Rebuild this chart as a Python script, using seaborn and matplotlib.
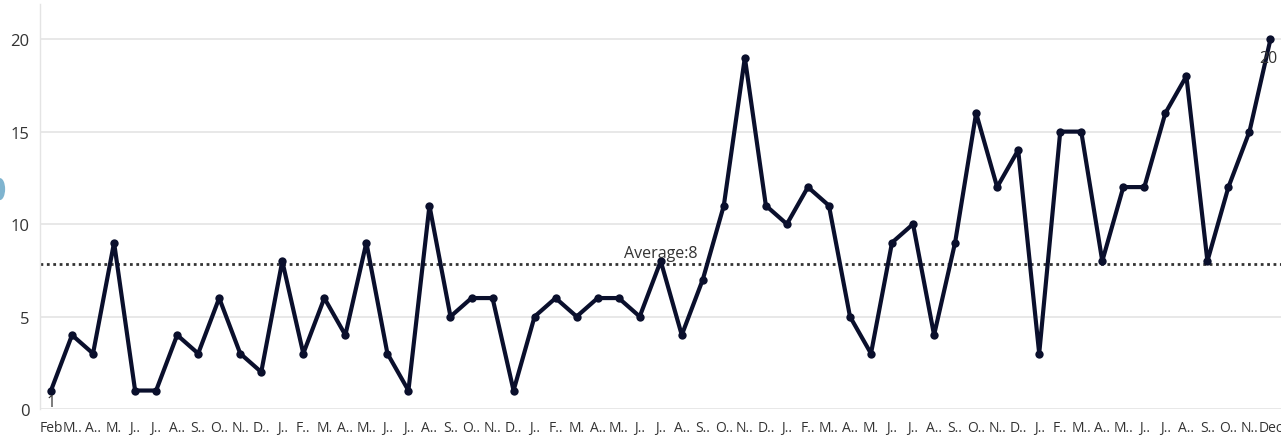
import matplotlib
matplotlib.use("Agg")
import matplotlib.pyplot as plt
import seaborn as sns
import pandas as pd
from matplotlib.patches import Ellipse

sns.set_theme(style="white")
plt.rcParams["font.family"] = ["Open Sans", "DejaVu Sans"]

# monthly counts, Feb .. Dec over five years
month_labels = [
    "Feb", "M..", "A..", "M.", "J..", "J..", "A..", "S..", "O..", "N..", "D..",
    "J..", "F..", "M.", "A..", "M..", "J..", "J..", "A..", "S..", "O..", "N..", "D..",
    "J..", "F..", "M.", "A..", "M..", "J..", "J..", "A..", "S..", "O..", "N..", "D..",
    "J..", "F..", "M..", "A..", "M.", "J..", "J..", "A..", "S..", "O..", "N..", "D..",
    "J..", "F..", "M..", "A..", "M..", "J..", "J..", "A..", "S..", "O..", "N..", "Dec",
]
counts = [
    1, 4, 3, 9, 1, 1, 4, 3, 6, 3, 2,
    8, 3, 6, 4, 9, 3, 1, 11, 5, 6, 6, 1,
    5, 6, 5, 6, 6, 5, 8, 4, 7, 11, 19, 11,
    10, 12, 11, 5, 3, 9, 10, 4, 9, 16, 12, 14,
    3, 15, 15, 8, 12, 12, 16, 18, 8, 12, 15, 20,
]

df = pd.DataFrame({"idx": range(len(counts)), "count": counts})
avg = df["count"].mean()

fig = plt.figure(figsize=(12.81, 4.39), dpi=100)
ax = fig.add_axes([0.0316, 0.066, 0.9684, 0.9226])

# grid
for v in [0, 5, 10, 15, 20]:
    ax.axhline(v, color="#e4e4e4", lw=1.2, zorder=0)

# average line
ax.axhline(avg, color="#333333", lw=2, ls=(0, (1, 1.3)), zorder=1)

sns.lineplot(data=df, x="idx", y="count", ax=ax, color="#0a0f2c",
             lw=3, marker="o", markersize=6, markeredgewidth=0, zorder=3)

ax.text(df["idx"][29], avg + 0.2, "Average:%d" % round(avg), ha="center", va="bottom",
        fontsize=11.5, color="#333333")
ax.text(df["idx"][0], counts[0] - 0.2, "1", ha="center", va="top", fontsize=11.5, color="#333333")
ax.text(df["idx"].iloc[-1] - 0.1, counts[-1] - 0.6, "20", ha="center", va="top", fontsize=11.5,
        color="#333333", clip_on=False)

ax.set_xlim(-0.5, len(counts) - 0.5)
ax.set_ylim(0, 21.9)
ax.set_yticks([0, 5, 10, 15, 20])
ax.set_xticks(df["idx"])
ax.set_xticklabels(month_labels)
ax.tick_params(axis="y", length=0, labelsize=12, labelcolor="#333333", pad=8)
ax.tick_params(axis="x", length=6, width=1, color="#e0e0e0", labelsize=10,
               labelcolor="#333333", pad=2, direction="out")
ax.set_xlabel("")
ax.set_ylabel("")

for s in ["top", "right", "bottom"]:
    ax.spines[s].set_visible(False)
ax.spines["left"].set_color("#e4e4e4")
ax.spines["left"].set_linewidth(1)

# small tab at the left edge
fig.patches.append(Ellipse((0.0, 0.567), 0.008, 0.05, transform=fig.transFigure,
                           facecolor="#7fb4cf", edgecolor="none"))

fig.savefig("out.png", dpi=100)
